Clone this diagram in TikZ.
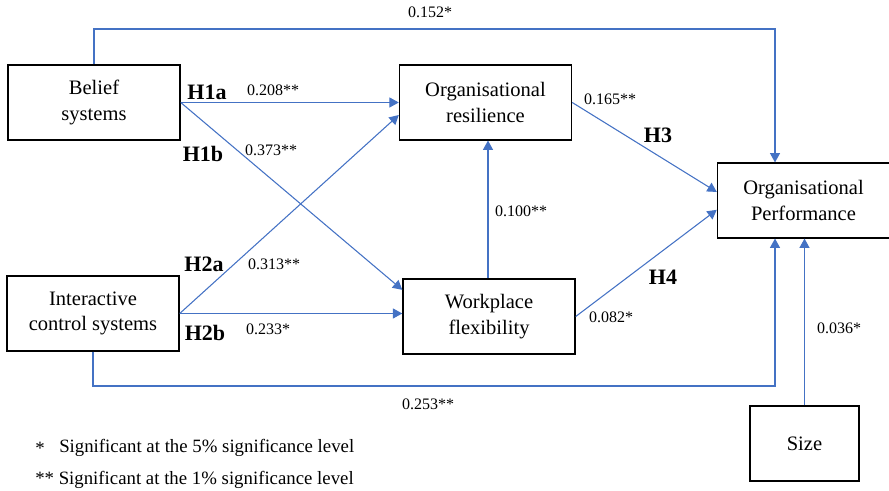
\documentclass[tikz,border=0pt]{standalone}
\usepackage{fontspec}
\setmainfont{Liberation Serif}
\usetikzlibrary{arrows.meta,positioning}
\definecolor{linkblue}{HTML}{4472C4}

\begin{document}
\begin{tikzpicture}[x=0.75pt,y=0.75pt,
    construct/.style={draw,line width=1.1pt,minimum width=129pt,minimum height=56pt,
      inner sep=0pt,align=center,font=\fontsize{15.4}{19}\selectfont},
    link/.style={draw=linkblue,line width=0.8pt,-{Triangle[length=7pt,width=7.5pt]}},
    coef/.style={inner sep=0pt,font=\fontsize{12}{14}\selectfont},
    hyp/.style={inner sep=0pt,font=\fontsize{16.5}{18}\selectfont\bfseries},
    note/.style={inner sep=0pt,anchor=west,font=\fontsize{14.1}{16}\selectfont}]
  \useasboundingbox (0,0) rectangle (889,491);

  \node[construct] (belief) at (94,388.5) {Belief\\systems};
  \node[construct] (orgres) at (485.5,388.5) {Organisational\\resilience};
  \node[construct] (orgperf) at (803.5,290.5) {Organisational\\Performance};
  \node[construct] (interactive) at (93,177.5) {Interactive\\control systems};
  \node[construct] (workplace) at (489,174.5) {Workplace\\flexibility};
  \node[construct,minimum width=81.75pt] (size) at (804.5,47.5) {Size};

  \coordinate (topturn) at (775,462);
  \coordinate (botturn) at (775,105);

  \draw[link] (belief.north) |- (topturn) -- (topturn |- orgperf.north);
  \draw[link] (belief.east) -- (orgres.west);
  \draw[link] (belief.east) -- ([yshift=20pt]workplace.west);
  \draw[link] (interactive.east) -- ([yshift=-9.4pt]orgres.west);
  \draw[link] (interactive.east) -- (interactive.east -| workplace.west);
  \draw[link] (interactive.south) |- (botturn) -- (botturn |- orgperf.south);
  \draw[link] (workplace.north -| orgres.south) ++(2.5,0) coordinate (wpup) -- (wpup |- orgres.south);
  \draw[link] (orgres.east) -- ([yshift=6.4pt]orgperf.west);
  \draw[link] (workplace.east) -- ([yshift=-7pt]orgperf.west);
  \draw[link] (size.north) -- (size.north |- orgperf.south);

  \node[coef] (c152) at (430,479) {0.152*};
  \node[coef] (c208) at (273,401) {0.208**};
  \node[coef] (c373) at (271,341) {0.373**};
  \node[coef] (c313) at (274,227) {0.313**};
  \node[coef] (c233) at (268,162) {0.233*};
  \node[coef] (c253) at (428,87) {0.253**};
  \node[coef] (c100) at (521,280) {0.100**};
  \node[coef] (c165) at (610,392) {0.165**};
  \node[coef] (c082) at (611,174) {0.082*};
  \node[coef] (c036) at (839,163) {0.036*};

  \node[hyp] (h1a) at (207,399) {H1a};
  \node[hyp] (h1b) at (203,337) {H1b};
  \node[hyp] (h2a) at (204,227) {H2a};
  \node[hyp] (h2b) at (205,158) {H2b};
  \node[hyp] (h3) at (658,356) {H3};
  \node[hyp] (h4) at (663,214) {H4};

  \node[note] (star1) at (35,43) {*};
  \node[note] (note5) at (59,43) {Significant at the 5\% significance level};
  \node[note] (note1) at (35,11) {** Significant at the 1\% significance level};
\end{tikzpicture}
\end{document}
